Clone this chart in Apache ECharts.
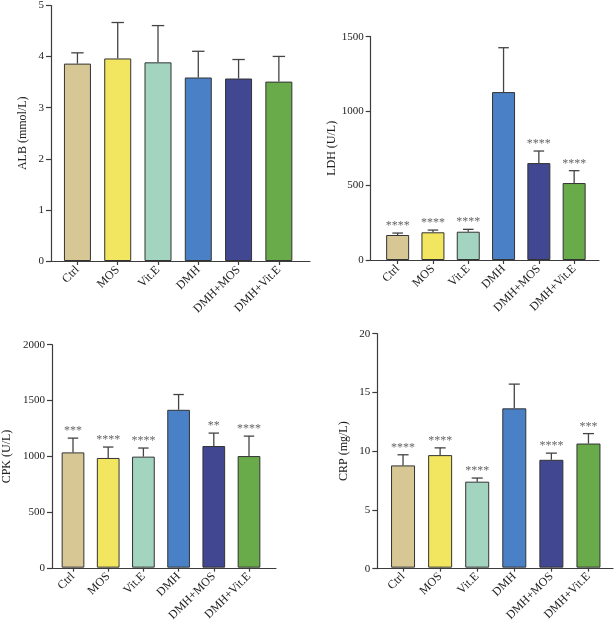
<!DOCTYPE html>
<html><head><meta charset="utf-8">
<script src="https://cdn.jsdelivr.net/npm/echarts@6/dist/echarts.min.js"></script>
<style>html,body{margin:0;padding:0;background:#fff}#c{width:614px;height:624px}</style>
</head><body><div id="c"></div>
<script>
const categories = ['Ctrl','MOS','Vit.E','DMH','DMH+MOS','DMH+Vit.E'];
const barColors = ['#D6C794','#F2E55F','#A2D4C0','#4A80C6','#414791','#69AA4B'];

const albMean = [3.84, 3.94, 3.865, 3.57, 3.55, 3.49];
const albErr  = [4.05, 4.64, 4.58, 4.08, 3.92, 3.98];
const albStars = ['', '', '', '', '', ''];
const albAxis = {name: 'ALB (mmol/L)', max: 5, interval: 1};

const ldhMean = [168, 186, 190, 1128, 651, 517];
const ldhErr  = [181, 201, 206, 1426, 732, 600];
const ldhStars = ['****', '****', '****', '', '****', '****'];
const ldhAxis = {name: 'LDH (U/L)', max: 1500, interval: 500};

const cpkMean = [1034, 984, 996, 1416, 1091, 1001];
const cpkErr  = [1162, 1082, 1073, 1553, 1207, 1180];
const cpkStars = ['***', '****', '****', '', '**', '****'];
const cpkAxis = {name: 'CPK (U/L)', max: 2000, interval: 500};

const crpMean = [8.74, 9.62, 7.35, 13.62, 9.22, 10.61];
const crpErr  = [9.65, 10.24, 7.66, 15.69, 9.79, 11.46];
const crpStars = ['****', '****', '****', '', '****', '***'];
const crpAxis = {name: 'CRP (mg/L)', max: 20, interval: 5};

// layout (pixels)
const layouts = [
  {yAxisX: 51,    axisEnd: 310, top: 4,     bottom: 261,   bandStart: 57.3,  bandEnd: 299,   barWidth: 27,   nameGap: 22},
  {yAxisX: 370.7, axisEnd: 599, top: 36.7,  bottom: 260,   bandStart: 380,   bandEnd: 591.8, barWidth: 23,   nameGap: 33},
  {yAxisX: 51.7,  axisEnd: 276, top: 344.7, bottom: 568.3, bandStart: 55.4,  bandEnd: 266.6, barWidth: 22.7, nameGap: 39},
  {yAxisX: 377.3, axisEnd: 613, top: 333.7, bottom: 568.7, bandStart: 384.5, bandEnd: 607,   barWidth: 24,   nameGap: 27}
];
const panels = [
  {mean: albMean, err: albErr, stars: albStars, axis: albAxis},
  {mean: ldhMean, err: ldhErr, stars: ldhStars, axis: ldhAxis},
  {mean: cpkMean, err: cpkErr, stars: cpkStars, axis: cpkAxis},
  {mean: crpMean, err: crpErr, stars: crpStars, axis: crpAxis}
];

const FONT = '"Liberation Serif", "Times New Roman", serif';
const AX = '#3c3c3c';
const grid = [], xAxis = [], yAxis = [], series = [];

panels.forEach((p, k) => {
  const L = layouts[k];
  const gA = grid.length;
  grid.push({left: L.bandStart, width: L.bandEnd - L.bandStart, top: L.top, height: L.bottom - L.top});
  grid.push({left: L.yAxisX, width: L.axisEnd - L.yAxisX, top: L.top, height: L.bottom - L.top});
  const gB = gA + 1;
  const xa = xAxis.length;
  xAxis.push({
    type: 'category', gridIndex: gA, data: categories,
    axisLine: {show: false},
    axisTick: {show: true, alignWithLabel: true, length: 4, lineStyle: {color: AX, width: 1.2}},
    axisLabel: {rotate: 45, margin: 7, fontFamily: FONT, fontSize: 12, color: '#222', interval: 0}
  });
  xAxis.push({
    type: 'value', gridIndex: gB, min: 0, max: 1,
    axisLine: {show: true, onZero: false, lineStyle: {color: AX, width: 1.2}},
    axisTick: {show: false}, axisLabel: {show: false}, splitLine: {show: false}
  });
  const ya = yAxis.length;
  yAxis.push({type: 'value', gridIndex: gA, min: 0, max: p.axis.max, interval: p.axis.interval, show: false});
  yAxis.push({
    type: 'value', gridIndex: gB, min: 0, max: p.axis.max, interval: p.axis.interval,
    name: p.axis.name, nameLocation: 'middle', nameGap: L.nameGap,
    nameTextStyle: {fontFamily: FONT, fontSize: 12, color: '#222'},
    axisLine: {show: true, lineStyle: {color: AX, width: 1.2}},
    axisTick: {show: true, length: 5, lineStyle: {color: AX, width: 1.2}},
    axisLabel: {fontFamily: FONT, fontSize: 11, color: '#222', margin: 7, formatter: v => String(v)},
    splitLine: {show: false}
  });
  series.push({
    type: 'bar', xAxisIndex: xa, yAxisIndex: ya, barWidth: L.barWidth,
    data: p.mean.map((v, i) => ({value: v, itemStyle: {color: barColors[i]}})),
    itemStyle: {borderColor: '#333', borderWidth: 1},
    silent: true
  });
  const stars = p.stars;
  const bw = L.barWidth;
  series.push({
    type: 'custom', xAxisIndex: xa, yAxisIndex: ya, z: 5, clip: false,
    data: p.mean.map((v, i) => [i, v, p.err[i]]),
    encode: {x: 0, y: [1, 2]},
    renderItem: function (params, api) {
      const a = api.coord([api.value(0), api.value(1)]);
      const b = api.coord([api.value(0), api.value(2)]);
      const cap = bw * 0.46;
      const children = [
        {type: 'line', shape: {x1: a[0], y1: a[1], x2: b[0], y2: b[1]}, style: {stroke: '#444', lineWidth: 1.3}},
        {type: 'line', shape: {x1: b[0] - cap / 2, y1: b[1], x2: b[0] + cap / 2, y2: b[1]}, style: {stroke: '#444', lineWidth: 1.3}}
      ];
      const s = stars[params.dataIndex];
      if (s) {
        children.push({type: 'text', style: {text: s, x: b[0], y: b[1] - 1, textAlign: 'center', textVerticalAlign: 'bottom',
          fontFamily: FONT, fontSize: 12, fill: '#666'}});
      }
      return {type: 'group', children: children};
    }
  });
});

const chart = echarts.init(document.getElementById('c'), null, {renderer: 'canvas'});
chart.setOption({animation: false, backgroundColor: '#fff', grid, xAxis, yAxis, series});
</script></body></html>
